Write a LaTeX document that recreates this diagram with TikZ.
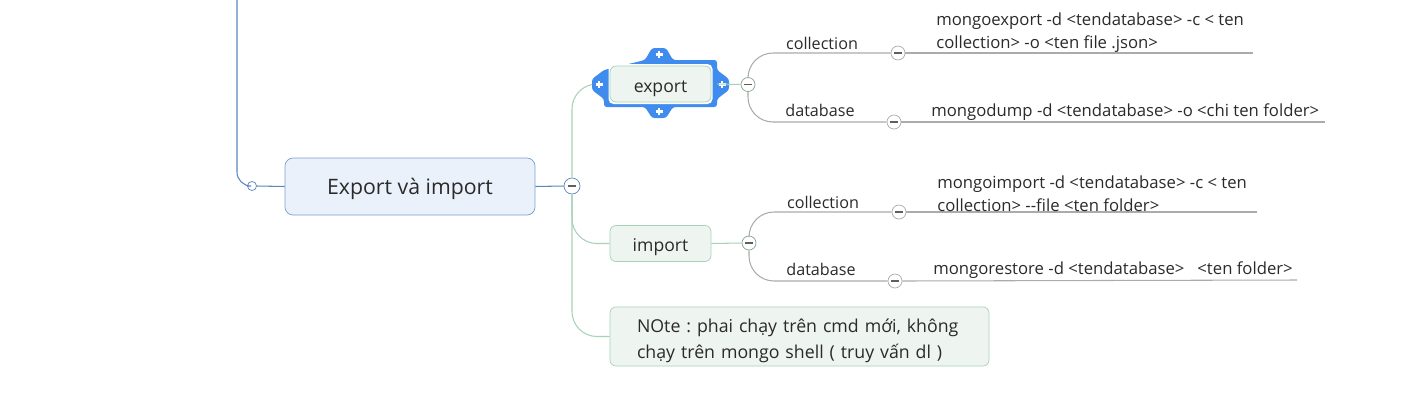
\documentclass[tikz,border=0pt]{standalone}
\usepackage{fontspec}
\setmainfont{Open Sans}
\frenchspacing
\definecolor{mapblue}{HTML}{5A86BE}
\definecolor{mapbluebg}{HTML}{EAF1FB}
\definecolor{mapgreen}{HTML}{A6D2B8}
\definecolor{mapgreenbg}{HTML}{EEF4EF}
\definecolor{mapgray}{HTML}{ABABAB}
\definecolor{selblue}{HTML}{3F8CEE}
\definecolor{ink}{HTML}{2A2A2A}
\begin{document}
\begin{tikzpicture}[
  x=0.02cm,y=-0.02cm,
  every node/.style={text=ink},
  mainnode/.style={draw=mapblue!80,fill=mapbluebg,rounded corners=0.16cm,
    minimum width=5cm,minimum height=1.14cm,text height=1.05em,text depth=0.15em,
    font=\fontsize{12.1}{14}\selectfont},
  subnode/.style={draw=mapgreen,fill=mapgreenbg,rounded corners=0.12cm,
    minimum width=2.02cm,minimum height=0.72cm,text height=1.1em,text depth=0.15em,
    font=\fontsize{10}{12}\selectfont},
  notenode/.style={draw=mapgreen,fill=mapgreenbg,rounded corners=0.12cm,
    align=left,text width=6.5cm,inner xsep=0.54cm,inner ysep=0.06cm,text height=1.3em,
    minimum height=1.18cm,font=\fontsize{10.1}{14.8}\selectfont},
  label/.style={anchor=south,inner sep=0pt,font=\fontsize{9.2}{13}\selectfont},
  cmd/.style={anchor=south west,inner sep=0pt,align=left,font=\fontsize{9.5}{13}\selectfont},
  togg/.style={circle,draw=#1,fill=white,minimum size=0.28cm,inner sep=0pt,
    path picture={\draw[ink!75,line width=0.7pt]
      ([xshift=-2.3pt]path picture bounding box.center) --
      ([xshift=2.3pt]path picture bounding box.center);}},
  ring/.style={circle,draw=mapblue,fill=white,minimum size=0.18cm,inner sep=0pt},
  blueline/.style={draw=mapblue,line width=0.6pt},
  greenline/.style={draw=mapgreen,line width=0.6pt},
  grayline/.style={draw=mapgray,line width=0.6pt},
  plussign/.style={white,line width=1.2pt}
]
  \useasboundingbox (0,0) rectangle (1403,410);

  % main topic and its left link
  \coordinate (up) at (237,0);
  \node[ring] (r0) at (252,186) {};
  \node[mainnode] (main) at (410,186.5) {Export và import};
  \draw[blueline,rounded corners=0.28cm] (up) |- (r0.west);
  \draw[blueline] (r0.east) -- (main.west);
  \node[togg=mapblue,minimum size=0.32cm] (hub) at (572,186) {};
  \draw[blueline] (main.east) -- (hub.west);

  % children
  \node[subnode] (export) at (660.5,84) {export};
  \node[subnode] (import) at (660.5,243.5) {import};
  \node[notenode] (note) at (799.5,336.5)
    {NOte : phai chạy trên cmd mới, không\\chạy trên mongo shell ( truy vấn dl )};
  \draw[greenline,rounded corners=0.5cm] (hub.north) |- (export.west);
  \draw[greenline,rounded corners=0.5cm] (hub.south) |- (import.west);
  \draw[greenline,rounded corners=0.5cm] (hub.south) |- (note.west);

  % selection frame round export
  \fill[selblue,rounded corners=1.5pt] (604,70) -- (592,79) -- (592,90) -- (604,99)
    -- (604,107) -- (645,107) -- (652,118) -- (666,118) -- (673,107) -- (717,107)
    -- (717,99) -- (729,90) -- (729,79) -- (717,70) -- (717,60) -- (673,60)
    -- (666,48) -- (652,48) -- (645,60) -- cycle;
  \fill[white,rounded corners=0.1cm] (608.5,64) rectangle (712.5,104);
  \node[subnode] at (export) {export};
  \foreach \px/\py in {659/54.5,659/111.5,599/84.5,722/84.5}
    \draw[plussign] (\px-3.5,\py) -- (\px+3.5,\py) (\px,\py-3.5) -- (\px,\py+3.5);

  % export branch
  \node[togg=mapgreen!80!black] (exhub) at (748,84.5) {};
  \draw[greenline] (export.east) ++(6,0) -- (exhub.west);
  \node[togg=mapgray] (exc) at (898,53) {};
  \node[togg=mapgray] (exd) at (894,122) {};
  \draw[grayline,rounded corners=0.5cm] (exhub.north) |- (exc.west);
  \draw[grayline,rounded corners=0.5cm] (exhub.south) |- (exd.west);
  \node[label] (excl) at (822,50) {collection};
  \node[label] (exdl) at (820,117.5) {database};
  \coordinate (exce) at (1253,53);
  \coordinate (exde) at (1325,122);
  \draw[grayline] (exc.east) -- (exce);
  \draw[grayline] (exd.east) -- (exde);
  \node[cmd] (excmd) at (936,53) {mongoexport -d <tendatabase> -c < ten\\collection> -o <ten file .json>};
  \node[cmd] (exdmd) at (931,121) {mongodump -d <tendatabase> -o <chi ten folder>};

  % import branch
  \node[togg=mapgreen!80!black] (imhub) at (749,243) {};
  \draw[greenline] (import.east) -- (imhub.west);
  \node[togg=mapgray] (imc) at (899,212) {};
  \node[togg=mapgray] (imd) at (895,281) {};
  \draw[grayline,rounded corners=0.5cm] (imhub.north) |- (imc.west);
  \draw[grayline,rounded corners=0.5cm] (imhub.south) |- (imd.west);
  \node[label] (imcl) at (823,209) {collection};
  \node[label] (imdl) at (821,276.5) {database};
  \coordinate (imce) at (1257,212);
  \coordinate (imde) at (1297,280);
  \draw[grayline] (imc.east) -- (imce);
  \draw[grayline] (imd.east) -- (imde);
  \node[cmd] (imcmd) at (937,212) {mongoimport -d <tendatabase> -c < ten\\collection> -{}-file <ten folder>};
  \node[cmd] (imdmd) at (933,279) {mongorestore -d <tendatabase> \ \ <ten folder>};
\end{tikzpicture}
\end{document}
